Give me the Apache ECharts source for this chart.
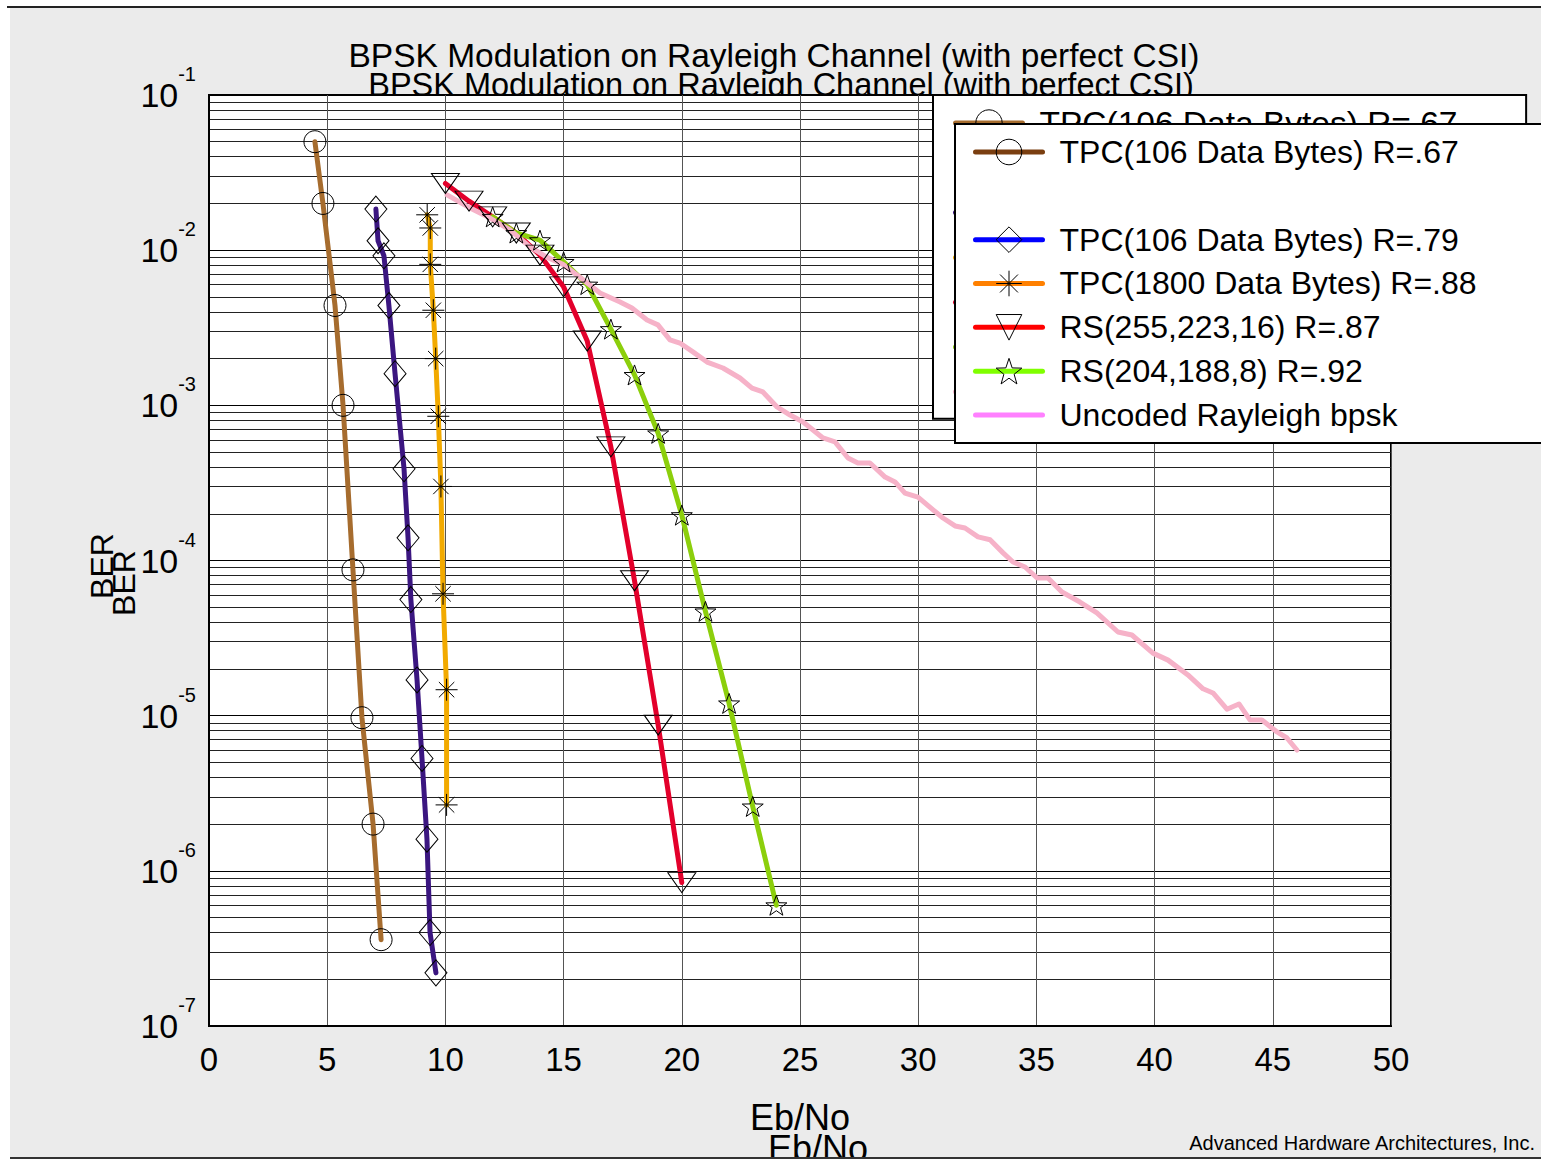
<!DOCTYPE html>
<html><head><meta charset="utf-8">
<script src="https://cdn.jsdelivr.net/npm/echarts@6/dist/echarts.min.js"></script>
<style>html,body{margin:0;padding:0;background:#fff;}#c{width:1541px;height:1164px;}</style>
</head><body><div id="c"></div>
<script>
// ---------- text ----------
const TITLE = 'BPSK Modulation on Rayleigh Channel (with perfect CSI)';
const X_NAME = 'Eb/No';
const Y_NAME = 'BER';
const CREDIT = 'Advanced Hardware Architectures, Inc.';
const NAMES = ['TPC(106 Data Bytes) R=.67', 'TPC(106 Data Bytes) R=.79', 'TPC(1800 Data Bytes) R=.88',
               'RS(255,223,16) R=.87', 'RS(204,188,8) R=.92', 'Uncoded Rayleigh bpsk'];
const BLANK = '\u00a0';

// ---------- axes ----------
const X_MIN = 0, X_MAX = 50, X_STEP = 5;
const Y_MIN = 1e-7, Y_MAX = 1e-1;

// ---------- data (Eb/No in dB, BER) ----------
const tpc67_ebno = [4.48, 4.82, 5.33, 5.67, 6.09, 6.47, 6.94, 7.28];
const tpc67_ber  = [0.05, 0.02, 0.0044, 0.001, 8.7e-5, 9.7e-6, 2.0e-6, 3.6e-7];

const tpc79_ebno = [7.06, 7.15, 7.40, 7.61, 7.87, 8.25, 8.42, 8.54, 8.80, 9.01, 9.22, 9.35, 9.60];
const tpc79_ber  = [0.0184, 0.0115, 0.0092, 0.0044, 0.0016, 3.9e-4, 1.4e-4, 5.6e-5, 1.7e-5, 5.3e-6, 1.6e-6, 4.0e-7, 2.2e-7];

const tpc88_ebno = [9.23, 9.36, 9.36, 9.49, 9.59, 9.70, 9.81, 9.90, 10.05, 10.05];
const tpc88_ber  = [0.0169, 0.0139, 0.0081, 0.0041, 0.0020, 8.5e-4, 3.0e-4, 6.1e-5, 1.47e-5, 2.66e-6];

const rs255_ebno = [10, 11, 12, 13, 14, 15, 16, 17, 18, 19, 20];
const rs255_ber  = [0.0269, 0.0207, 0.0164, 0.0129, 0.0093, 0.0058, 0.0026, 5.4e-4, 7.4e-5, 8.7e-6, 8.4e-7];

const rs204_ebno = [12, 13, 14, 15, 16, 17, 18, 19, 20, 21, 22, 23, 24];
const rs204_ber  = [0.0164, 0.0129, 0.0116, 0.0084, 0.0060, 0.0031, 0.00157, 6.6e-4, 1.96e-4, 4.7e-5, 1.2e-5, 2.6e-6, 6.0e-7];

const unc_ebno = [10.07, 10.96, 11.89, 12.73, 13.58, 14.30, 14.97, 15.69, 16.54, 17.39, 17.89, 18.53, 18.99, 19.50,
  19.92, 20.47, 21.07, 21.74, 22.46, 22.97, 23.43, 24.03, 24.58, 25.13, 25.97, 26.48, 27.03, 27.45, 27.96, 28.60,
  29.02, 29.44, 29.99, 30.63, 31.05, 31.56, 31.98, 32.53, 33.04, 33.59, 34.01, 34.52, 35.03, 35.49, 36.08, 36.84,
  37.56, 38.45, 39.04, 39.93, 40.57, 41.41, 42.05, 42.47, 43.06, 43.57, 44.04, 44.54, 45.18, 45.60, 46.02];
const unc_ber = [0.0227, 0.0190, 0.0161, 0.0135, 0.0105, 0.0090, 0.0081, 0.0067, 0.0053, 0.00463, 0.00424, 0.00355,
  0.0033, 0.00264, 0.00252, 0.00221, 0.0019, 0.00174, 0.0015, 0.00129, 0.00122, 9.76e-4, 8.66e-4, 7.81e-4, 6.16e-4,
  5.81e-4, 4.58e-4, 4.25e-4, 4.25e-4, 3.45e-4, 3.21e-4, 2.72e-4, 2.56e-4, 2.12e-4, 1.88e-4, 1.67e-4, 1.62e-4,
  1.42e-4, 1.36e-4, 1.12e-4, 9.78e-5, 9.08e-5, 7.71e-5, 7.71e-5, 6.27e-5, 5.4e-5, 4.59e-5, 3.46e-5, 3.31e-5,
  2.53e-5, 2.28e-5, 1.83e-5, 1.49e-5, 1.40e-5, 1.10e-5, 1.19e-5, 9.37e-6, 9.37e-6, 7.85e-6, 7.18e-6, 6.01e-6];

// ---------- styling ----------
const FONT = '"Liberation Sans", Arial, Helvetica, sans-serif';
const PLOT_COLORS   = ['#a66c2e', '#3b1680', '#f2aa00', '#e3002b', '#8ccf0c', '#f6b2c8'];
const LEGEND_COLORS = ['#7a3e10', '#0000ff', '#ff8000', '#ff0000', '#80ff00', '#ff80ff'];
const STAR = 'path://M10,0L12.35,6.76L19.51,6.91L13.8,11.24L15.88,18.09L10,14L4.12,18.09L6.2,11.24L0.49,6.91L7.65,6.76Z';
const ASTER = 'path://M0,10L20,10M10,0L10,20M3,3L17,17M3,17L17,3';

function pairs(xs, ys) { return xs.map((x, i) => [x, ys[i]]); }
function lineSeries(idx, xs, ys, symbol, size, rotate) {
  return {
    type: 'line', name: NAMES[idx], data: pairs(xs, ys),
    symbol: symbol, symbolSize: size, symbolRotate: rotate || 0, symbolKeepAspect: true,
    showSymbol: symbol !== 'none',
    lineStyle: { color: PLOT_COLORS[idx], width: 5, cap: 'round', join: 'round' },
    itemStyle: { color: 'rgba(0,0,0,0)', borderColor: '#000', borderWidth: 1 },
    emphasis: { disabled: true }, animation: false
  };
}

const series = [
  lineSeries(0, tpc67_ebno, tpc67_ber, 'circle', 22),
  { type: 'line', name: BLANK, data: [], symbol: 'none', animation: false },
  lineSeries(1, tpc79_ebno, tpc79_ber, 'diamond', [22, 26]),
  lineSeries(2, tpc88_ebno, tpc88_ber, ASTER, 22),
  lineSeries(3, rs255_ebno, rs255_ber, 'triangle', [28, 20], 180),
  lineSeries(4, rs204_ebno, rs204_ber, STAR, 21),
  lineSeries(5, unc_ebno, unc_ber, 'none', 0)
];

function legendData(colors) {
  const out = [];
  NAMES.forEach((n, i) => {
    const item = { name: n, lineStyle: { color: colors[i], width: 5 } };
    if (i === 5) item.itemStyle = { borderColor: 'rgba(0,0,0,0)', color: 'rgba(0,0,0,0)' };
    out.push(item);
    if (i === 0) out.push({ name: BLANK, lineStyle: { opacity: 0 }, itemStyle: { opacity: 0 } });
  });
  return out;
}
function legend(left, top, pad, fs, ih, gap, colors, z) {
  return {
    orient: 'vertical', left: left, top: top, padding: pad, z: z,
    backgroundColor: '#fff', borderColor: '#000', borderWidth: 2, borderRadius: 0,
    itemWidth: 67, itemHeight: ih, itemGap: gap, selectedMode: false,
    itemStyle: { color: 'rgba(0,0,0,0)', borderColor: '#000', borderWidth: 1 },
    lineStyle: { width: 5 },
    textStyle: { fontSize: fs, fontFamily: FONT, color: '#000', lineHeight: ih, padding: [0, 0, 0, 12] },
    data: legendData(colors)
  };
}

const chart = echarts.init(document.getElementById('c'), null, { renderer: 'svg' });
chart.setOption({
  backgroundColor: '#ebebeb',
  animation: false,
  title: [
    { text: TITLE, left: 774, textAlign: 'center', top: 38, padding: 0, z: 6,
      textStyle: { fontSize: 33.5, fontWeight: 'normal', fontFamily: FONT, color: '#000', lineHeight: 34 } },
    { text: TITLE, left: 781, textAlign: 'center', top: 69, padding: 0, z: -1,
      textStyle: { fontSize: 32.5, fontWeight: 'normal', fontFamily: FONT, color: '#000', lineHeight: 32 } }
  ],
  grid: { left: 209, right: 150, top: 95, bottom: 138, show: true, backgroundColor: '#fff',
          borderColor: '#000', borderWidth: 2, containLabel: false },
  legend: [
    legend(933, 95, [11, 50, 10, 20], 33.5, 33, 10.8, PLOT_COLORS, 3),
    legend(955, 124, [12, 90, 12, 18], 32, 32, 11.83, LEGEND_COLORS, 4)
  ],
  xAxis: {
    type: 'value', min: X_MIN, max: X_MAX, interval: X_STEP,
    axisLine: { lineStyle: { color: '#000', width: 2 } }, axisTick: { show: false },
    axisLabel: { fontSize: 33, fontFamily: FONT, color: '#000', margin: 17 },
    splitLine: { show: true, lineStyle: { color: '#555', width: 1 } },
    name: X_NAME, nameLocation: 'middle', nameGap: 73,
    nameTextStyle: { fontSize: 36, fontFamily: FONT, color: '#000' }
  },
  yAxis: {
    type: 'log', logBase: 10, min: Y_MIN, max: Y_MAX, splitNumber: 6,
    axisLine: { show: true, lineStyle: { color: '#000', width: 2 } }, axisTick: { show: false },
    axisLabel: {
      margin: 13, color: '#000', padding: [22, 0, 0, 0],
      formatter: v => '{b|10}{s|' + Math.round(Math.log10(v)) + '}',
      rich: {
        b: { fontSize: 34, fontFamily: FONT, color: '#000', lineHeight: 36, padding: [0, 0, 12, 0], verticalAlign: 'bottom' },
        s: { fontSize: 20, fontFamily: FONT, color: '#000', lineHeight: 20, padding: [0, 0, 40, 0], verticalAlign: 'bottom' }
      }
    },
    splitLine: { show: true, lineStyle: { color: '#000', width: 1 } },
    minorTick: { show: false, splitNumber: 9 },
    minorSplitLine: { show: true, lineStyle: { color: '#222', width: 1 } },
    name: Y_NAME, nameLocation: 'middle', nameGap: 91, nameRotate: 90,
    nameTextStyle: { fontSize: 32, fontFamily: FONT, color: '#000', padding: [0, 11, 0, 0] }
  },
  series: series,
  graphic: [
    { type: 'rect', shape: { x: 0, y: 0, width: 1541, height: 6 }, style: { fill: '#fff' }, z: 100 },
    { type: 'rect', shape: { x: 0, y: 0, width: 10, height: 1164 }, style: { fill: '#fff' }, z: 100 },
    { type: 'rect', shape: { x: 0, y: 1159, width: 1541, height: 5 }, style: { fill: '#fff' }, z: 100 },
    { type: 'line', shape: { x1: 7, y1: 7, x2: 1541, y2: 7 }, style: { stroke: '#222', lineWidth: 2 }, z: 101 },
    { type: 'line', shape: { x1: 10, y1: 1158, x2: 1541, y2: 1158 }, style: { stroke: '#333', lineWidth: 2 }, z: 101 },
    { type: 'text', x: 124, y: 583, rotation: Math.PI / 2, z: 10,
      style: { text: Y_NAME, font: '32px ' + FONT, fill: '#000', align: 'center', verticalAlign: 'middle' } },
    { type: 'text', x: 818, y: 1148, z: 10,
      style: { text: X_NAME, font: '36px ' + FONT, fill: '#000', align: 'center', verticalAlign: 'middle' } },
    { type: 'text', x: 1535, y: 1143, z: 10,
      style: { text: CREDIT, font: '20px ' + FONT, fill: '#000', align: 'right', verticalAlign: 'middle' } }
  ]
});
</script></body></html>
